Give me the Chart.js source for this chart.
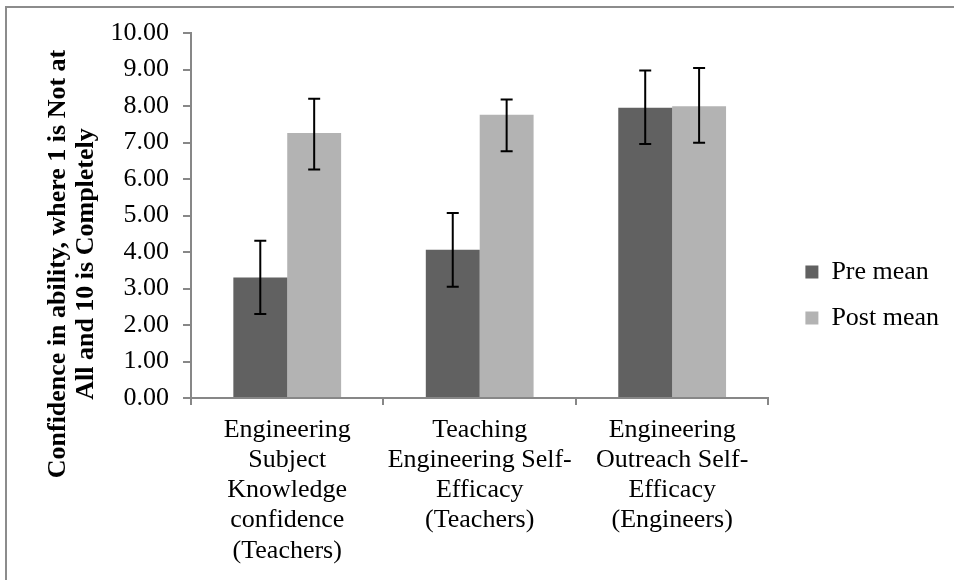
<!DOCTYPE html>
<html>
<head>
<meta charset="utf-8">
<script src="https://cdn.jsdelivr.net/npm/chart.js@4"></script>
<style>
    html, body { margin: 0; padding: 0; background: #fff; }
    #wrap { width: 954px; height: 580px; }
</style>
</head>
<body>
<div id="wrap"><canvas id="confChart" width="954" height="580"></canvas></div>
<script>
// Chart data
const categories = [
    ['Engineering', 'Subject', 'Knowledge', 'confidence', '(Teachers)'],
    ['Teaching', 'Engineering Self-', 'Efficacy', '(Teachers)'],
    ['Engineering', 'Outreach Self-', 'Efficacy', '(Engineers)']
];
const preMean = [3.30, 4.06, 7.95];
const postMean = [7.26, 7.76, 7.99];
// error bar extents (below, above)
const preErrLow = [1.00, 1.01, 0.99];
const preErrHigh = [1.01, 1.01, 1.02];
const postErrLow = [1.00, 1.00, 1.00];
const postErrHigh = [0.94, 0.42, 1.05];
const yTitle = ['Confidence in ability, where 1 is Not at', 'All and 10 is Completely'];

const serif = "'Liberation Serif', 'Times New Roman', serif";
const axisGrey = '#878787';

// Error bars drawn from the bar elements and the y scale
const errorBars = {
    id: 'errorBars',
    afterDatasetsDraw(chart) {
        const ctx = chart.ctx;
        const y = chart.scales.y;
        const errs = [[preErrLow, preErrHigh], [postErrLow, postErrHigh]];
        ctx.save();
        ctx.strokeStyle = '#000';
        ctx.lineWidth = 2;
        chart.data.datasets.forEach((ds, di) => {
            chart.getDatasetMeta(di).data.forEach((bar, i) => {
                const v = ds.data[i];
                const top = y.getPixelForValue(v + errs[di][1][i]);
                const bot = y.getPixelForValue(v - errs[di][0][i]);
                ctx.beginPath();
                ctx.moveTo(bar.x, top);
                ctx.lineTo(bar.x, bot);
                ctx.moveTo(bar.x - 6, top);
                ctx.lineTo(bar.x + 6, top);
                ctx.moveTo(bar.x - 6, bot);
                ctx.lineTo(bar.x + 6, bot);
                ctx.stroke();
            });
        });
        ctx.restore();
    }
};

// Outer frame + rotated two-line y title
const frameAndTitle = {
    id: 'frameAndTitle',
    beforeDraw(chart) {
        const ctx = chart.ctx;
        ctx.save();
        ctx.fillStyle = '#fff';
        ctx.fillRect(0, 0, chart.width, chart.height);
        ctx.strokeStyle = '#8c8c8c';
        ctx.lineWidth = 2;
        ctx.strokeRect(6, 7, 1000, 1000);
        ctx.restore();
    },
    afterDraw(chart) {
        const ctx = chart.ctx;
        ctx.save();
        ctx.translate(72, 264);
        ctx.rotate(-Math.PI / 2);
        ctx.fillStyle = '#000';
        ctx.font = 'bold 26px ' + serif;
        ctx.textAlign = 'center';
        ctx.textBaseline = 'middle';
        ctx.fillText(yTitle[0], 0, -14);
        ctx.fillText(yTitle[1], 0, 14);
        ctx.restore();
    }
};

// Move legend next to the plot, a bit lower
const legendPlace = {
    id: 'legendPlace',
    afterLayout(chart) {
        const l = chart.legend;
        const w = l.right - l.left, h = l.bottom - l.top;
        l.left = chart.chartArea.right + 17;
        l.right = l.left + w;
        l.top = 239;
        l.bottom = l.top + h;
    }
};

function initChart() {
    const ctx = document.getElementById('confChart').getContext('2d');
    return new Chart(ctx, {
        type: 'bar',
        data: {
            labels: categories,
            datasets: [{
                label: 'Pre mean',
                data: preMean,
                backgroundColor: '#616161'
            }, {
                label: 'Post mean',
                data: postMean,
                backgroundColor: '#b3b3b3'
            }]
        },
        options: {
            responsive: false,
            animation: false,
            events: [],
            categoryPercentage: 0.56,
            barPercentage: 1.0,
            layout: { padding: { left: 0, right: 22, top: 33, bottom: 0 } },
            plugins: {
                legend: {
                    position: 'right',
                    align: 'start',
                    labels: {
                        boxWidth: 13,
                        boxHeight: 13,
                        padding: 20,
                        color: '#000',
                        font: { family: serif, size: 26 }
                    }
                },
                tooltip: { enabled: false }
            },
            scales: {
                x: {
                    grid: { drawOnChartArea: false, tickLength: 7, color: axisGrey, lineWidth: 2 },
                    border: { color: axisGrey, width: 2 },
                    ticks: {
                        color: '#000',
                        padding: 10,
                        maxRotation: 0,
                        autoSkip: false,
                        font: { family: serif, size: 26, lineHeight: 1.16 }
                    },
                    afterFit(scale) { scale.height = 182; }
                },
                y: {
                    min: 0,
                    max: 10,
                    grid: { drawOnChartArea: false, tickLength: 8, color: axisGrey, lineWidth: 2 },
                    border: { color: axisGrey, width: 2 },
                    ticks: {
                        stepSize: 1,
                        color: '#000',
                        padding: 14,
                        font: { family: serif, size: 26 },
                        callback: (v) => Number(v).toFixed(2)
                    },
                    afterFit(scale) { scale.width = 191; }
                }
            }
        },
        plugins: [errorBars, frameAndTitle, legendPlace]
    });
}

initChart();
</script>
</body>
</html>
